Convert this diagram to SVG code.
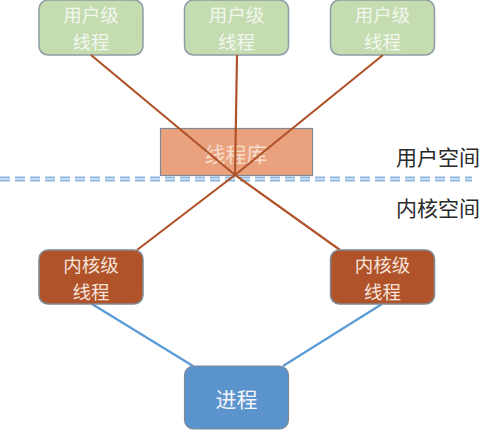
<svg xmlns="http://www.w3.org/2000/svg" width="486" height="430" viewBox="0 0 486 430">
<style>
text{font-family:"Noto Sans CJK SC","Liberation Sans",sans-serif;font-size:21px;text-anchor:middle;dominant-baseline:central}
.two{font-size:18.5px}
.user rect{fill:#C5DCB1;stroke:#8E9CA6;stroke-width:1.5}
.user text{fill:#F2F7EE}
.kern rect{fill:#B0532A;stroke:#7F8A94;stroke-width:1.5}
.kern text{fill:#F6E3DA}
.lbl{fill:#2A2A2A;font-size:21px;text-anchor:start}
.oc{stroke:#B0532A;stroke-width:2.2;fill:none}
.bc{stroke:#5B9BD5;stroke-width:2.2;fill:none}
.dash{stroke:#8DB7E0;stroke-width:2;stroke-dasharray:10 5}
</style>
<g id="u1" class="user"><rect x="39" y="0" width="104" height="55" rx="9"/><text class="two"><tspan x="91" y="14">用户级</tspan><tspan x="91" y="41">线程</tspan></text></g>
<g id="u2" class="user"><rect x="184.5" y="0" width="104" height="55" rx="9"/><text class="two"><tspan x="236.5" y="14">用户级</tspan><tspan x="236.5" y="41">线程</tspan></text></g>
<g id="u3" class="user"><rect x="330.5" y="0" width="104" height="55" rx="9"/><text class="two"><tspan x="382.5" y="14">用户级</tspan><tspan x="382.5" y="41">线程</tspan></text></g>
<g id="lib"><rect x="160.5" y="128.5" width="152" height="47" fill="#E9A27D" stroke="#7F8A94" stroke-width="1.2"/><text x="236" y="153" fill="#F8DCCB">线程库</text></g>
<g id="sep"><line class="dash" x1="0" y1="177.5" x2="472" y2="177.5"/><line class="dash" x1="0" y1="180.5" x2="472" y2="180.5"/></g>
<text class="lbl" x="396" y="156">用户空间</text>
<text class="lbl" x="396" y="207">内核空间</text>
<g id="connectors">
<polyline class="oc" points="91,55 235,175 340,250"/>
<polyline class="oc" points="237,55 235,175"/>
<polyline class="oc" points="383,55 235,175 137,250"/>
<line class="bc" x1="92" y1="304" x2="193" y2="366"/>
<line class="bc" x1="382" y1="304" x2="283" y2="366"/>
</g>
<g id="k1" class="kern"><rect x="39" y="250" width="104" height="54" rx="9"/><text class="two"><tspan x="91" y="264">内核级</tspan><tspan x="91" y="291">线程</tspan></text></g>
<g id="k2" class="kern"><rect x="330.5" y="250" width="104" height="54" rx="9"/><text class="two"><tspan x="382.5" y="264">内核级</tspan><tspan x="382.5" y="291">线程</tspan></text></g>
<g id="proc"><rect x="184.5" y="366" width="104" height="63" rx="9" fill="#5B93CC" stroke="#7F8A94" stroke-width="1.2"/><text x="236.5" y="398" fill="#F3F7FB">进程</text></g>
</svg>
